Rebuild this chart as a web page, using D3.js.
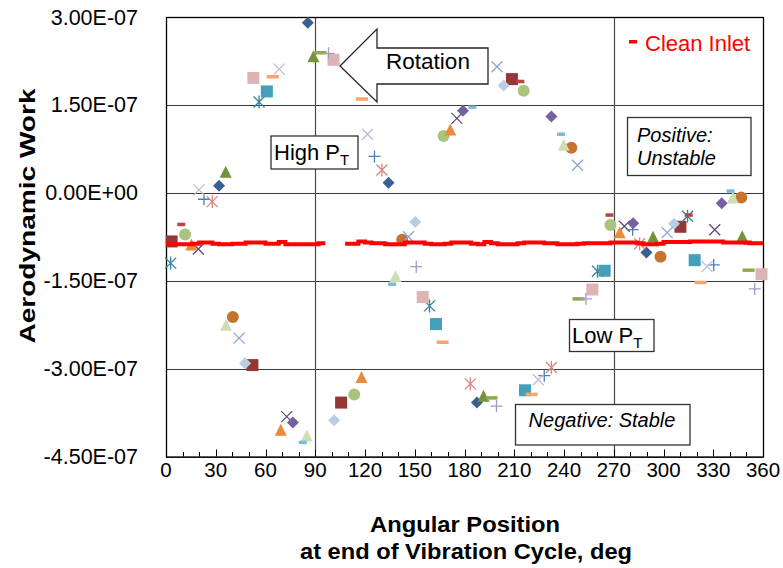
<!DOCTYPE html>
<html>
<head>
<meta charset="utf-8">
<script src="https://cdn.jsdelivr.net/npm/d3@7"></script>
<style>
  html, body { margin: 0; padding: 0; background: #fff; }
  svg { display: block; font-family: "Liberation Sans", Arial, sans-serif; }
</style>
</head>
<body>
<svg id="chart" width="783" height="568"></svg>
<script>
// ---------------- DATA ----------------
const xTickValues = [0, 30, 60, 90, 120, 150, 180, 210, 240, 270, 300, 330, 360];
const xTickLabels = ["0","30","60","90","120","150","180","210","240","270","300","330","360"];
const yTickValues = [-4.5e-7, -3.0e-7, -1.5e-7, 0, 1.5e-7, 3.0e-7];
const yTickLabels = ["-4.50E-07","-3.00E-07","-1.50E-07","0.00E+00","1.50E-07","3.00E-07"];
const xGridValues = [90, 270];

// series: [angle deg, aerodynamic work]
const darkBlueDiamond   = [[32.0,0.12e-7],[85.5,2.90e-7],[134.2,0.17e-7],[187.5,-3.58e-7],[289.7,-1.02e-7]];
const darkRedSquare     = [[3.4,-0.83e-7],[52.1,-2.94e-7],[105.6,-3.58e-7],[208.6,1.94e-7],[310.2,-0.58e-7]];
const oliveTriangle     = [[36.0,0.35e-7],[88.9,2.32e-7],[191.5,-3.47e-7],[293.7,-0.76e-7],[347.5,-0.75e-7]];
const darkPurpleX       = [[19.5,-0.96e-7],[72.8,-3.82e-7],[175.4,1.27e-7],[276.4,-0.57e-7],[330.9,-0.63e-7]];
const tealAsterisk      = [[2.8,-1.20e-7],[56.1,1.55e-7],[158.9,-1.93e-7],[260.2,-1.34e-7],[314.5,-0.40e-7]];
const orangeCircle      = [[40.3,-2.12e-7],[142.4,-0.80e-7],[244.4,0.77e-7],[298.2,-1.09e-7],[346.9,-0.08e-7]];
const bluePlus          = [[22.9,-0.11e-7],[125.7,0.62e-7],[228.1,-3.12e-7],[281.4,-0.63e-7],[330.3,-1.23e-7]];
const lightBlueDiamond  = [[47.7,-2.91e-7],[101.4,-3.88e-7],[150.3,-0.50e-7],[203.6,1.83e-7],[306.3,-0.53e-7]];
const greenCircle       = [[11.5,-0.71e-7],[113.5,-3.44e-7],[167.4,0.97e-7],[215.7,1.74e-7],[268.0,-0.55e-7]];
const orangeTriangle    = [[15.3,-0.89e-7],[69.2,-4.05e-7],[117.9,-3.15e-7],[171.4,1.07e-7],[273.6,-0.68e-7]];
const purpleDiamond     = [[76.5,-3.92e-7],[179.1,1.40e-7],[232.4,1.30e-7],[281.7,-0.52e-7],[335.1,-0.18e-7]];
const lightBlueX        = [[44.1,-2.48e-7],[146.2,-0.75e-7],[199.6,2.15e-7],[248.2,0.47e-7],[302.2,-0.68e-7]];
const tealSquare        = [[60.8,1.73e-7],[162.8,-2.24e-7],[216.5,-3.37e-7],[264.5,-1.33e-7],[318.8,-1.15e-7]];
const lightOrangeDash   = [[64.4,1.98e-7],[118.2,1.60e-7],[166.8,-2.55e-7],[220.5,-3.44e-7],[322.3,-1.53e-7]];
const pinkSquare        = [[52.7,1.96e-7],[101.0,2.27e-7],[154.8,-1.78e-7],[257.1,-1.65e-7],[359.1,-1.39e-7]];
const lightPurpleX      = [[19.9,0.05e-7],[68.2,2.11e-7],[121.5,1.00e-7],[224.5,-3.19e-7],[326.3,-1.26e-7]];
const lightRedAsterisk  = [[27.9,-0.15e-7],[130.2,0.39e-7],[183.5,-3.26e-7],[232.4,-2.98e-7],[285.6,-0.87e-7]];
const lightGreenTriangle= [[36.2,-2.26e-7],[84.9,-4.15e-7],[138.4,-1.43e-7],[239.8,0.81e-7],[341.8,-0.09e-7]];
const lightTealDash     = [[82.5,-4.26e-7],[136.4,-1.56e-7],[184.8,1.46e-7],[238.2,1.00e-7],[340.4,0.03e-7]];
const darkRedDash       = [[9.2,-0.54e-7],[213.7,1.90e-7],[267.4,-0.38e-7],[315.2,-0.38e-7],[350.7,-0.86e-7]];
const oliveDash         = [[93.2,2.39e-7],[196.3,-3.50e-7],[248.8,-1.81e-7],[351.3,-1.32e-7]];
const lightPurplePlus   = [[98.0,2.38e-7],[150.9,-1.26e-7],[199.3,-3.64e-7],[253.2,-1.81e-7],[355.0,-1.64e-7]];

// Clean inlet (null = gap in the trace)
const cleanDeg = [0,4,8,12,16,20,24,28,32,36,40,44,48,52,56,60,64,68,72,76,80,84,88,92,96,100,104,108,112,116,120,124,128,132,136,140,144,148,152,156,160,164,168,172,176,180,184,188,192,196,200,204,208,212,216,220,224,228,232,236,240,244,248,252,256,260,264,268,272,276,280,284,288,292,296,300,304,308,312,316,320,324,328,332,336,340,344,348,352,356,360];
const cleanWork = [-0.88,-0.88,-0.88,-0.88,-0.87,-0.85,-0.85,-0.87,-0.88,-0.88,-0.87,-0.87,-0.85,-0.85,-0.85,-0.87,-0.87,-0.84,-0.88,-0.88,-0.88,-0.88,-0.88,-0.86,-0.86,null,null,-0.87,-0.87,-0.83,-0.85,-0.86,-0.86,-0.88,-0.88,-0.88,-0.85,-0.85,-0.85,-0.87,-0.88,-0.88,-0.87,-0.85,-0.85,-0.85,-0.87,-0.88,-0.84,-0.86,-0.88,-0.88,-0.88,-0.86,-0.85,-0.85,-0.85,-0.86,-0.86,-0.88,-0.88,-0.88,-0.87,-0.86,-0.86,-0.86,-0.86,-0.85,-0.85,-0.85,-0.85,-0.86,-0.88,-0.88,-0.87,-0.84,-0.84,-0.84,-0.84,-0.83,-0.83,-0.83,-0.83,-0.83,-0.85,-0.85,-0.85,-0.85,-0.86,-0.86,-0.86];

// ---------------- LAYOUT ----------------
const svg = d3.select("#chart");
const plot = { left: 166, right: 763, top: 17, bottom: 456.5 };
const x = d3.scaleLinear().domain([0, 360]).range([plot.left, plot.right]);
const y = d3.scaleLinear().domain([-4.5e-7, 3e-7]).range([plot.bottom, plot.top]);
const FONT = "'Liberation Sans', Arial, sans-serif";

// gridlines
svg.append("g").selectAll("line").data(yTickValues).join("line")
  .attr("x1", plot.left).attr("x2", plot.right)
  .attr("y1", d => Math.round(y(d)) + 0.5).attr("y2", d => Math.round(y(d)) + 0.5)
  .attr("stroke", "#3a3a3a").attr("stroke-width", 1.2);
svg.append("g").selectAll("line").data(xGridValues).join("line")
  .attr("x1", d => Math.round(x(d)) + 0.5).attr("x2", d => Math.round(x(d)) + 0.5)
  .attr("y1", plot.top).attr("y2", plot.bottom)
  .attr("stroke", "#4a4a4a").attr("stroke-width", 1.2);

// x axis with inward ticks
const minorTicks = d3.range(0, 361, 10);
svg.append("g").selectAll("line").data(minorTicks).join("line")
  .attr("x1", d => Math.round(x(d)) + 0.5).attr("x2", d => Math.round(x(d)) + 0.5)
  .attr("y1", plot.bottom).attr("y2", d => plot.bottom - (d % 30 === 0 ? 7 : 4.5))
  .attr("stroke", "#000").attr("stroke-width", 1);

// plot border
svg.append("rect").attr("x", plot.left + 0.5).attr("y", plot.top + 0.5)
  .attr("width", plot.right - plot.left).attr("height", plot.bottom - plot.top)
  .attr("fill", "none").attr("stroke", "#000").attr("stroke-width", 1.3);

// tick labels
svg.append("g").selectAll("text").data(xTickValues).join("text")
  .attr("x", d => x(d)).attr("y", 477)
  .attr("text-anchor", "middle").attr("font-size", 20.5).attr("font-family", FONT)
  .attr("fill", "#000")
  .text((d, i) => xTickLabels[i]);
svg.append("g").selectAll("text").data(yTickValues).join("text")
  .attr("x", 138).attr("y", d => y(d) + 7.5)
  .attr("text-anchor", "end").attr("font-size", 21.5).attr("font-family", FONT)
  .attr("fill", "#000")
  .text((d, i) => yTickLabels[i]);

// axis titles
svg.append("text").attr("x", 465).attr("y", 532).attr("text-anchor", "middle")
  .attr("font-size", 22).attr("font-weight", "bold").attr("font-family", FONT)
  .attr("textLength", 190).attr("lengthAdjust", "spacingAndGlyphs")
  .text("Angular Position");
svg.append("text").attr("x", 466).attr("y", 559).attr("text-anchor", "middle")
  .attr("font-size", 22).attr("font-weight", "bold").attr("font-family", FONT)
  .attr("textLength", 332).attr("lengthAdjust", "spacingAndGlyphs")
  .text("at end of Vibration Cycle, deg");
svg.append("text").attr("transform", "translate(35,216) rotate(-90)").attr("text-anchor", "middle")
  .attr("font-size", 22).attr("font-weight", "bold").attr("font-family", FONT)
  .attr("textLength", 255).attr("lengthAdjust", "spacingAndGlyphs")
  .text("Aerodynamic Work");

// ---------------- MARKERS ----------------
const gM = svg.append("g");
function drawSeries(data, type, color, opts = {}) {
  const g = gM.append("g");
  data.forEach(([dx, dy]) => {
    const cx = x(dx), cy = y(dy);
    if (type === "diamond") {
      const r = opts.r || 6;
      g.append("path").attr("d", `M${cx},${cy - r}L${cx + r},${cy}L${cx},${cy + r}L${cx - r},${cy}Z`).attr("fill", color);
    } else if (type === "square") {
      const s = opts.s || 12;
      g.append("rect").attr("x", cx - s / 2).attr("y", cy - s / 2).attr("width", s).attr("height", s).attr("fill", color);
    } else if (type === "triangle") {
      const w = 12, h = 11;
      g.append("path").attr("d", `M${cx},${cy - h / 2 - 1}L${cx + w / 2},${cy + h / 2}L${cx - w / 2},${cy + h / 2}Z`).attr("fill", color);
    } else if (type === "circle") {
      g.append("circle").attr("cx", cx).attr("cy", cy).attr("r", 6).attr("fill", color);
    } else if (type === "x") {
      const r = 5.5;
      g.append("path").attr("d", `M${cx - r},${cy - r}L${cx + r},${cy + r}M${cx - r},${cy + r}L${cx + r},${cy - r}`)
        .attr("stroke", color).attr("stroke-width", 1.3).attr("fill", "none");
    } else if (type === "plus") {
      const r = 6;
      g.append("path").attr("d", `M${cx - r},${cy}L${cx + r},${cy}M${cx},${cy - r}L${cx},${cy + r}`)
        .attr("stroke", color).attr("stroke-width", 1.3).attr("fill", "none");
    } else if (type === "asterisk") {
      const r = 5.5;
      g.append("path").attr("d", `M${cx - r},${cy - r}L${cx + r},${cy + r}M${cx - r},${cy + r}L${cx + r},${cy - r}M${cx},${cy - r - 1}L${cx},${cy + r + 1}`)
        .attr("stroke", color).attr("stroke-width", 1.3).attr("fill", "none");
    } else if (type === "dash") {
      const w = opts.w || 12, h = 3.5;
      g.append("rect").attr("x", cx - w / 2).attr("y", cy - h / 2).attr("width", w).attr("height", h).attr("fill", color);
    }
  });
}

drawSeries(darkBlueDiamond, "diamond", "#386192");
drawSeries(darkRedSquare, "square", "#953735");
drawSeries(oliveTriangle, "triangle", "#76923C");
drawSeries(darkPurpleX, "x", "#5F497A");
drawSeries(tealAsterisk, "asterisk", "#31859C");
drawSeries(orangeCircle, "circle", "#C4742F");
drawSeries(bluePlus, "plus", "#4A7EBB");
drawSeries(lightBlueDiamond, "diamond", "#B9CDE5");
drawSeries(greenCircle, "circle", "#A8C47E");
drawSeries(orangeTriangle, "triangle", "#E98A3C");
drawSeries(purpleDiamond, "diamond", "#7860A0");
drawSeries(lightBlueX, "x", "#8AA6D6");
drawSeries(tealSquare, "square", "#44A0BA");
drawSeries(lightOrangeDash, "dash", "#F7A46F");
drawSeries(pinkSquare, "square", "#DDB3B3");
drawSeries(lightPurpleX, "x", "#C4B8D8");
drawSeries(lightRedAsterisk, "asterisk", "#D98583");
drawSeries(lightGreenTriangle, "triangle", "#CFDDB5");
drawSeries(lightTealDash, "dash", "#78BDD4", { w: 8 });
drawSeries(darkRedDash, "dash", "#B94542", { w: 8 });
drawSeries(oliveDash, "dash", "#8CAA4E");
drawSeries(lightPurplePlus, "plus", "#A996C8");

// Clean inlet trace
const cleanData = cleanDeg.map((d, i) => ({ d, v: cleanWork[i] }));
const cleanLine = d3.line()
  .defined(p => p.v !== null)
  .x(p => x(p.d)).y(p => y(p.v * 1e-7))
  .curve(d3.curveStepAfter);
svg.append("path").datum(cleanData).attr("d", cleanLine)
  .attr("fill", "none").attr("stroke", "#FF0000").attr("stroke-width", 4);

// ---------------- ANNOTATIONS ----------------
// Legend
svg.append("rect").attr("x", 629).attr("y", 40).attr("width", 8).attr("height", 3.5).attr("fill", "#FF0000");
svg.append("text").attr("x", 645).attr("y", 51).attr("font-size", 22).attr("font-family", FONT)
  .attr("fill", "#FF0000").text("Clean Inlet");

// Rotation arrow
svg.append("path")
  .attr("d", "M340,66 L377,29 L377,48 L488,48 L488,84 L377,84 L377,102 Z")
  .attr("fill", "#fff").attr("stroke", "#262626").attr("stroke-width", 1.3);
svg.append("text").attr("x", 428).attr("y", 69).attr("text-anchor", "middle")
  .attr("font-size", 22.5).attr("font-family", FONT).text("Rotation");

function ptBox(bx, by, bw, bh, tx, ty) {
  svg.append("rect").attr("x", bx).attr("y", by).attr("width", bw).attr("height", bh)
    .attr("fill", "#fff").attr("stroke", "#333").attr("stroke-width", 1.3);
  return svg.append("text").attr("x", tx).attr("y", ty).attr("font-size", 22).attr("font-family", FONT);
}
// High PT
let t1 = ptBox(271, 136, 87, 33, 274, 160);
t1.append("tspan").text("High P");
t1.append("tspan").attr("font-size", 15).attr("dy", 5).text("T");
// Low PT
let t2 = ptBox(569.5, 319.5, 84.5, 32, 572, 343);
t2.append("tspan").text("Low P");
t2.append("tspan").attr("font-size", 15).attr("dy", 5).text("T");

// Positive: Unstable
svg.append("rect").attr("x", 627.5).attr("y", 117.5).attr("width", 123.5).attr("height", 58)
  .attr("fill", "#fff").attr("stroke", "#333").attr("stroke-width", 1.3);
svg.append("text").attr("x", 637).attr("y", 141.5).attr("font-size", 20).attr("font-style", "italic")
  .attr("font-family", FONT).text("Positive:");
svg.append("text").attr("x", 637).attr("y", 164.5).attr("font-size", 20).attr("font-style", "italic")
  .attr("font-family", FONT).text("Unstable");

// Negative: Stable
svg.append("rect").attr("x", 515.5).attr("y", 404.5).attr("width", 174.5).attr("height", 40.5)
  .attr("fill", "#fff").attr("stroke", "#333").attr("stroke-width", 1.3);
svg.append("text").attr("x", 602).attr("y", 427).attr("text-anchor", "middle").attr("font-size", 20)
  .attr("font-style", "italic").attr("font-family", FONT).text("Negative: Stable");
</script>
</body>
</html>
